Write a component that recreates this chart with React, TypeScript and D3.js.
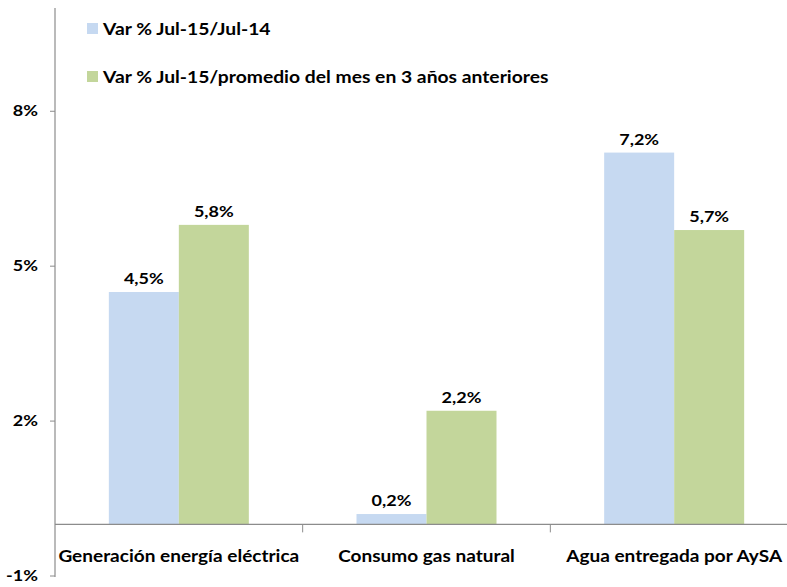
import React from 'react';
import * as d3 from 'd3';

const categories = ['Generación energía eléctrica', 'Consumo gas natural', 'Agua entregada por AySA'];
const seriesNames = ['Var % Jul-15/Jul-14', 'Var % Jul-15/promedio del mes en 3 años anteriores'];
const interanual = [4.5, 0.2, 7.2];
const promedio3 = [5.8, 2.2, 5.7];
const yTicks = [-1, 2, 5, 8];

const colors = ['#C6D9F1', '#C3D69B'];
const font = 'Lato, "Open Sans", sans-serif';

// text stretched horizontally, the way the original (Calibri) labels look
const T = ({ x, y, size, sx, anchor = 'start', children }: any) => (
  <text transform={`translate(${x},${y}) scale(${sx},1)`} textAnchor={anchor} fontFamily={font}
    fontWeight="bold" fontSize={size} fill="#000">{children}</text>
);

const App = () => {
  const width = 787;
  const height = 587;

  const x = d3.scaleBand().domain(categories).range([55, 798]).paddingInner(0).paddingOuter(0);
  const y = d3.scaleLinear().domain([-1, 10]).range([576, 8]);
  const barW = 70;

  const series = [interanual, promedio3];
  const fmt = (v: number) => d3.format('.1f')(v).replace('.', ',') + '%';

  return (
    <svg width={width} height={height} style={{ position: 'absolute', left: 0, top: 0 }}>
      <rect width={width} height={height} fill="#fff" />
      {series.map((vals, si) =>
        vals.map((v, i) => {
          const cx = x(categories[i])! + x.bandwidth() / 2;
          const bx = cx - barW + si * barW;
          return (
            <g key={`${si}-${i}`}>
              <rect x={bx} y={y(v)} width={barW} height={y(0) - y(v)} fill={colors[si]} />
              <T x={bx + barW / 2} y={y(v) - 8} size={15} sx={1.2} anchor="middle">{fmt(v)}</T>
            </g>
          );
        })
      )}
      {/* y axis */}
      <line x1={55} x2={55} y1={8} y2={577} stroke="#8c8c8c" strokeWidth={1.2} />
      {yTicks.map((t) => (
        <g key={t}>
          <line x1={50} x2={55} y1={y(t)} y2={y(t)} stroke="#8c8c8c" />
          <T x={38} y={y(t) + 5} size={15} sx={1.2} anchor="end">{t}%</T>
        </g>
      ))}
      {/* x axis */}
      <line x1={55} x2={787} y1={y(0)} y2={y(0)} stroke="#8c8c8c" strokeWidth={1.2} />
      {categories.slice(1).map((c) => (
        <line key={c} x1={x(c)!} x2={x(c)!} y1={y(0)} y2={y(0) + 8} stroke="#8c8c8c" />
      ))}
      {categories.map((c) => (
        <T key={c} x={x(c)! + x.bandwidth() / 2} y={562} size={17} sx={1.12} anchor="middle">{c}</T>
      ))}
      {/* legend */}
      {seriesNames.map((s, i) => (
        <g key={s} transform={`translate(87, ${i * 48 + 23})`}>
          <rect width={11} height={11} fill={colors[i]} />
          <T x={16} y={12} size={16.5} sx={1.17}>{s}</T>
        </g>
      ))}
    </svg>
  );
};

export default App;
